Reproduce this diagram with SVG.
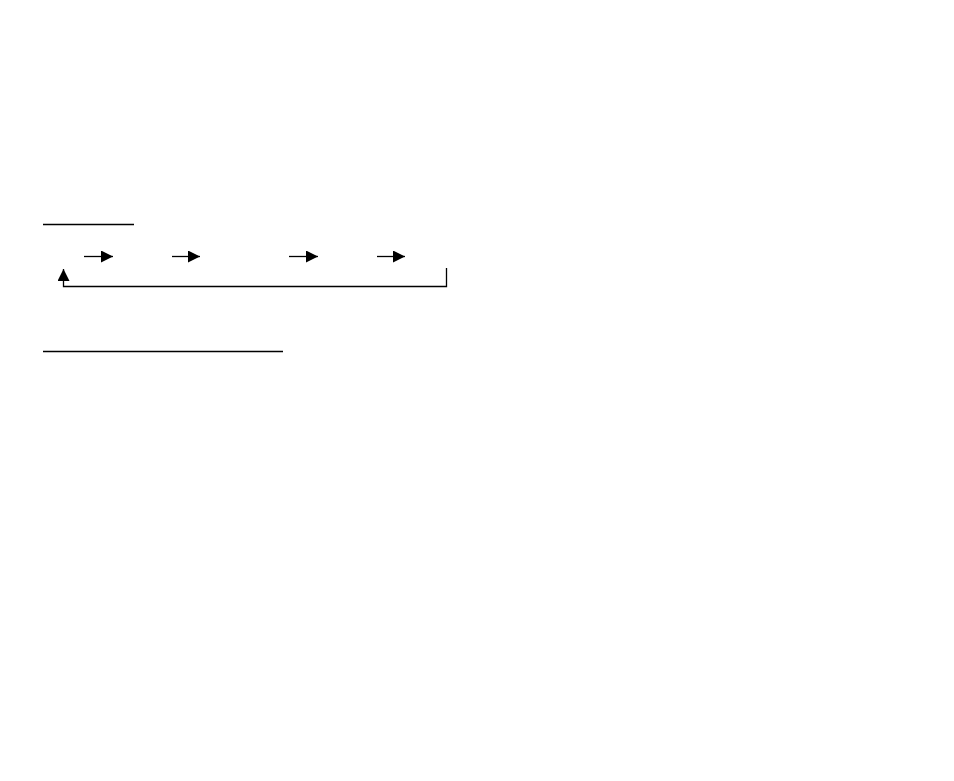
<svg xmlns="http://www.w3.org/2000/svg" width="954" height="781" viewBox="0 0 954 781">
<style>
.ln{stroke:#000;stroke-width:1.3;fill:none}
</style>
<defs>
<marker id="ah" markerWidth="12" markerHeight="12" refX="12" refY="6" orient="auto" markerUnits="userSpaceOnUse">
<path d="M0,0 L12,6 L0,12 Z" fill="#000"/>
</marker>
</defs>
<rect width="954" height="781" fill="#fff"/>
<g id="rule-top"><line class="ln" x1="43" y1="224.5" x2="134" y2="224.5"/></g>
<g id="rule-bottom"><line class="ln" x1="43" y1="351.5" x2="283" y2="351.5"/></g>
<g id="connectors">
<line class="ln" x1="84" y1="256.5" x2="113" y2="256.5" marker-end="url(#ah)"/>
<line class="ln" x1="172" y1="256.5" x2="200" y2="256.5" marker-end="url(#ah)"/>
<line class="ln" x1="289" y1="256.5" x2="318" y2="256.5" marker-end="url(#ah)"/>
<line class="ln" x1="377" y1="256.5" x2="405" y2="256.5" marker-end="url(#ah)"/>
<polyline class="ln" points="446.5,268 446.5,286.5 63.5,286.5 63.5,269" marker-end="url(#ah)"/>
</g>
</svg>
